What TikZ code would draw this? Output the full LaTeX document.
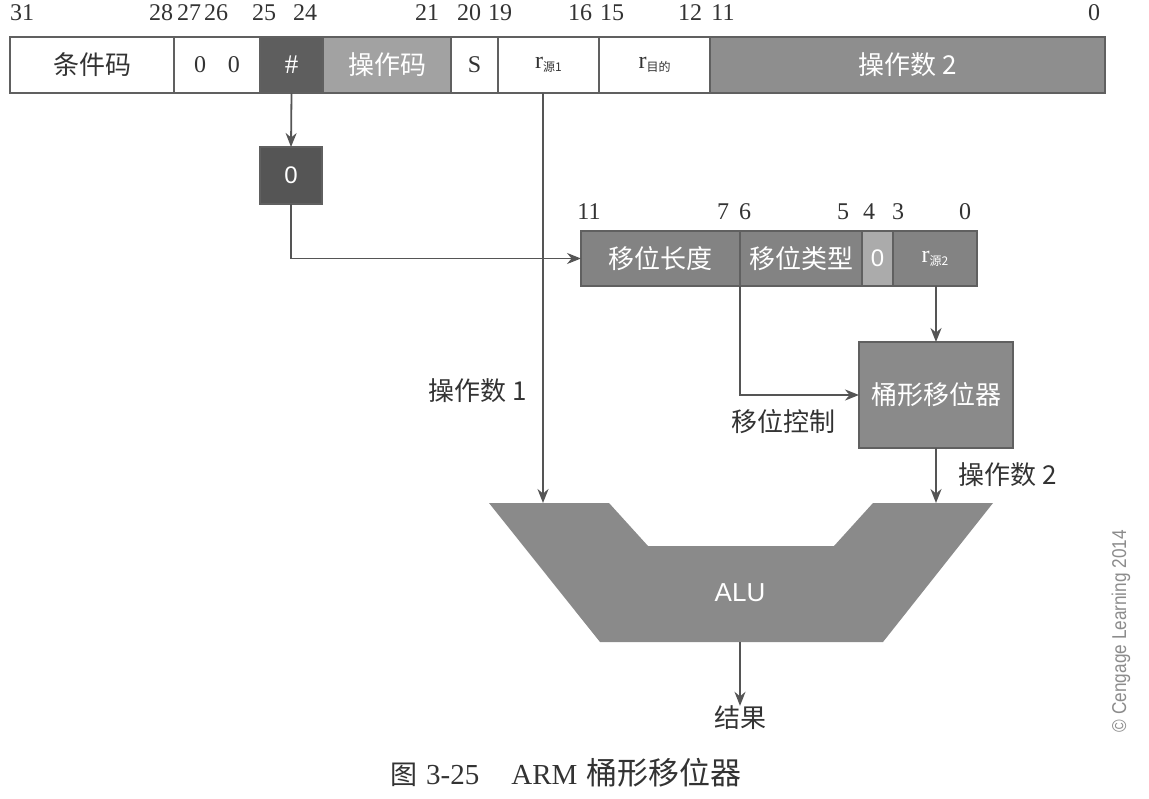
\documentclass[tikz,border=0pt]{standalone}
\usepackage{fontspec}
\setmainfont{Liberation Serif}
\setsansfont{Liberation Sans}
\newfontfamily\cjk{Noto Sans CJK SC}
\newfontfamily\narrowfont{Liberation Sans}[FakeStretch=0.86]
\usetikzlibrary{arrows.meta,calc}
\definecolor{edge}{HTML}{606060}
\definecolor{linec}{HTML}{555555}
\definecolor{txt}{HTML}{333333}
\definecolor{hashc}{HTML}{5E5E5E}
\definecolor{opcc}{HTML}{A2A2A2}
\definecolor{optwo}{HTML}{8E8E8E}
\definecolor{rowtwo}{HTML}{838383}
\definecolor{zerotwo}{HTML}{ABABAB}
\definecolor{zerob}{HTML}{555555}
\definecolor{bsc}{HTML}{8A8A8A}
\definecolor{aluc}{HTML}{8A8A8A}
\definecolor{copyc}{HTML}{8C8C8C}
\newcommand{\bitf}{\fontsize{24}{27}\selectfont}
\newcommand{\cjkf}{\cjk\fontsize{26}{30}\selectfont}
\newcommand{\subf}{\cjk\fontsize{12}{14}\selectfont}
\begin{document}
\begin{tikzpicture}[x=1pt,y=-1pt,
  cell/.style={draw=edge,line width=1.4pt,inner sep=0pt,outer sep=0pt,minimum height=56pt,anchor=center},
  bit/.style={text=txt,font=\bitf,inner sep=0pt},
  arr/.style={draw=linec,line width=1.8pt,-{Stealth[length=14pt,width=11pt]}},
  lbl/.style={text=txt,font=\cjkf,inner sep=0pt}]
\useasboundingbox (0,0) rectangle (1149,799);
\fill[white] (0,0) rectangle (1149,799);

% top instruction word
\node[cell,fill=white,minimum width=164pt,font=\cjkf,text=txt] (cond) at (92,65) {条件码};
\node[cell,fill=white,minimum width=86pt,font=\bitf,text=txt] (zz) at (217,65) {0\hspace{22pt}0};
\node[cell,fill=hashc,minimum width=63pt,font=\fontsize{27}{30}\selectfont,text=white] (hash) at (291.5,65) {\#};
\node[cell,fill=opcc,minimum width=128pt,font=\cjkf,text=white] (opc) at (387,65) {操作码};
\node[cell,fill=white,minimum width=47pt,font=\bitf,text=txt] (sbit) at (474.5,65) {S};
\node[cell,fill=white,minimum width=101pt,text=txt] (rn) at (548.5,65) {{\bitf r}\raisebox{-3pt}{\subf 源1}};
\node[cell,fill=white,minimum width=111pt,text=txt] (rd) at (654.5,65) {{\bitf r}\raisebox{-3pt}{\subf 目的}};
\node[cell,fill=optwo,minimum width=395pt,font=\cjkf,text=white] (op2) at (907.5,65) {操作数 2};

% top bit numbers
\node[bit] (b31) at (22,13) {31};
\node[bit] (b28) at (161,13) {28};
\node[bit] (b27) at (189,13) {27};
\node[bit] (b26) at (216,13) {26};
\node[bit] (b25) at (264,13) {25};
\node[bit] (b24) at (305,13) {24};
\node[bit] (b21) at (427,13) {21};
\node[bit] (b20) at (469,13) {20};
\node[bit] (b19) at (500,13) {19};
\node[bit] (b16) at (580,13) {16};
\node[bit] (b15) at (612,13) {15};
\node[bit] (b12) at (690,13) {12};
\node[bit] (b11) at (723,13) {11};
\node[bit] (b0) at (1094,13) {0};

% zero box
\node[cell,fill=zerob,minimum width=62pt,minimum height=57pt,font=\bitf,text=white] (zb) at (291,175.5) {\sffamily 0};

% second row: operand 2 format
\node[cell,fill=rowtwo,minimum width=159pt,minimum height=55pt,font=\cjkf,text=white] (sl) at (660.5,258.5) {移位长度};
\node[cell,fill=rowtwo,minimum width=122pt,minimum height=55pt,font=\cjkf,text=white] (st) at (801,258.5) {移位类型};
\node[cell,fill=zerotwo,minimum width=31pt,minimum height=55pt,font=\bitf,text=white] (z2) at (877.5,258.5) {\sffamily 0};
\node[cell,fill=rowtwo,minimum width=84pt,minimum height=55pt,text=white] (rm) at (935,258.5) {{\bitf r}\raisebox{-3pt}{\subf 源2}};

\node[bit] (c11) at (589,212) {11};
\node[bit] (c7) at (723,212) {7};
\node[bit] (c6) at (745,212) {6};
\node[bit] (c5) at (843,212) {5};
\node[bit] (c4) at (869,212) {4};
\node[bit] (c3) at (898,212) {3};
\node[bit] (c0) at (965,212) {0};

% barrel shifter
\node[cell,fill=bsc,minimum width=154pt,minimum height=106pt,font=\cjkf,text=white] (bs) at (936,395) {桶形移位器};

% ALU
\coordinate (aluL) at (543,503);
\coordinate (aluR) at (936,503);
\fill[aluc] (489,503) -- (609,503) -- (648,546) -- (834,546) -- (873,503) -- (993,503)
  -- (883,642) -- (600,642) -- cycle;
\node[text=white,font=\sffamily\fontsize{26}{30}\selectfont,inner sep=0pt] (alu) at (740,593) {ALU};
\coordinate (aluB) at (740,642);

% connectors
\draw[arr] (hash.south) -- (zb.north);
\draw[arr] (zb.south) |- (sl.west);
\draw[arr] (543,93) -- (aluL);
\draw[arr] (st.south west) |- (bs.west);
\draw[arr] (rm.south -| 936,0) -- (bs.north);
\draw[arr] (bs.south) -- (aluR);
\node[lbl] (res) at (740,718) {结果};
\draw[arr] (aluB) -- (res.north);

% labels
\node[lbl] (l1) at (478,391) {操作数 1};
\node[lbl] (lc) at (783,422) {移位控制};
\node[lbl] (l2) at (1008,475) {操作数 2};

% caption
\node[text=txt,inner sep=0pt,anchor=west] (cap) at (390,773)
  {{\cjk\fontsize{27}{30}\selectfont 图}\hspace{9pt}{\fontsize{29}{32}\selectfont 3-25\hspace{32pt}ARM}\hspace{9pt}{\cjk\fontsize{31}{34}\selectfont 桶形移位器}};

% copyright
\node[text=copyc,rotate=90,font=\narrowfont\fontsize{20}{24}\selectfont,inner sep=0pt] (copy) at (1121,631) {© Cengage Learning 2014};
\end{tikzpicture}
\end{document}
